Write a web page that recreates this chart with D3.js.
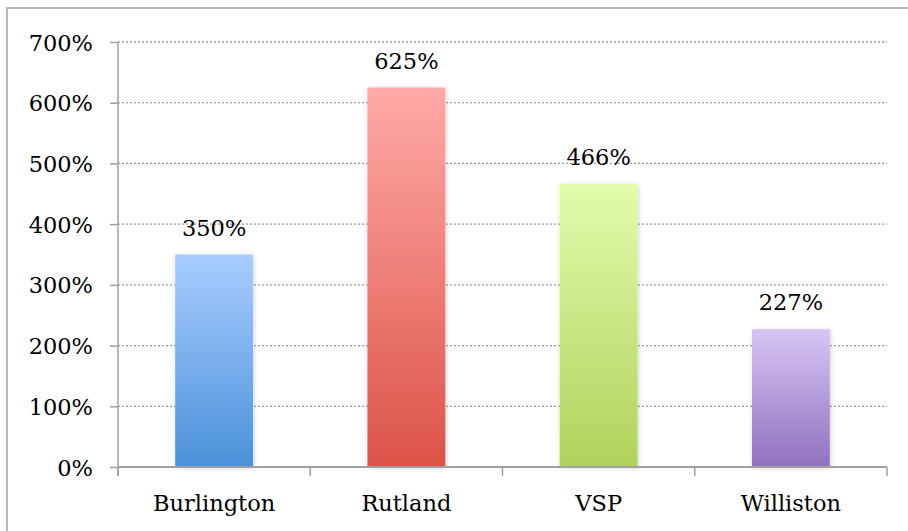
<!DOCTYPE html>
<html>
<head>
<meta charset="utf-8">
<script src="https://cdn.jsdelivr.net/npm/d3@7"></script>
<style>
  body { margin: 0; background: #fff; }
  svg text { font-family: "DejaVu Serif", serif; fill: #000; }
</style>
</head>
<body>
<div id="chart"></div>
<script>
const agencies = ["Burlington", "Rutland", "VSP", "Williston"];
const increase = [350, 625, 466, 227];
const yTicks = [0, 100, 200, 300, 400, 500, 600, 700];
const topColors = ["#a9cdff", "#ffaaa7", "#e1fcab", "#d8c5f4"];
const bottomColors = ["#4a91d9", "#dc5347", "#b0d25c", "#9071bf"];

function drawChart() {
  const W = 908, H = 531;
  const margin = { top: 42, right: 21, bottom: 64, left: 118 };
  const width = W - margin.left - margin.right;
  const height = H - margin.top - margin.bottom;

  const root = d3.select("#chart").append("svg")
    .attr("width", W)
    .attr("height", H);

  // outer frame, runs off the right and bottom edges
  root.append("rect")
    .attr("x", 7).attr("y", 8)
    .attr("width", 1000).attr("height", 600)
    .attr("fill", "none")
    .attr("stroke", "#a3a3a3")
    .attr("stroke-width", 1.5);

  const defs = root.append("defs");
  agencies.forEach((a, i) => {
    const g = defs.append("linearGradient")
      .attr("id", "grad" + i)
      .attr("x1", 0).attr("y1", 0).attr("x2", 0).attr("y2", 1);
    g.append("stop").attr("offset", "0%").attr("stop-color", topColors[i]);
    g.append("stop").attr("offset", "100%").attr("stop-color", bottomColors[i]);
  });
  const shadow = defs.append("filter").attr("id", "shadow")
    .attr("x", "-20%").attr("y", "-5%").attr("width", "140%").attr("height", "110%");
  shadow.append("feDropShadow")
    .attr("dx", 1).attr("dy", 1).attr("stdDeviation", 2.5)
    .attr("flood-color", "#000").attr("flood-opacity", 0.18);

  const svg = root.append("g")
    .attr("transform", `translate(${margin.left},${margin.top})`);

  const x = d3.scaleBand(agencies, [0, width]).padding(0);
  const y = d3.scaleLinear([0, 700], [height, 0]);

  // dotted gridlines
  svg.append("g")
    .selectAll("line")
    .data(yTicks.filter((d) => d > 0))
    .join("line")
    .attr("x1", 0).attr("x2", width)
    .attr("y1", (d) => y(d)).attr("y2", (d) => y(d))
    .attr("stroke", "#9a9a9a")
    .attr("stroke-width", 1.3)
    .attr("stroke-dasharray", "2,2");

  // y axis
  const yAxis = svg.append("g")
    .call(d3.axisLeft(y).tickValues(yTicks).tickFormat((d) => d + "%")
      .tickSizeInner(8).tickSizeOuter(0).tickPadding(17));
  yAxis.select(".domain").remove();
  yAxis.selectAll(".tick line").attr("stroke", "#a0a0a0").attr("stroke-width", 1.5);
  yAxis.selectAll(".tick text")
    .attr("font-size", 22.5)
    .style("font-family", "DejaVu Serif, serif")
    .attr("dy", "0.36em");
  yAxis.append("line")
    .attr("x1", 0).attr("x2", 0)
    .attr("y1", 0).attr("y2", height + 9)
    .attr("stroke", "#a0a0a0").attr("stroke-width", 1.5);

  // bars
  const barW = x.bandwidth() * 0.405;
  svg.append("g")
    .selectAll("rect")
    .data(agencies)
    .join("rect")
    .attr("x", (d) => x(d) + (x.bandwidth() - barW) / 2)
    .attr("y", (d, i) => y(increase[i]))
    .attr("width", barW)
    .attr("height", (d, i) => height - y(increase[i]))
    .attr("fill", (d, i) => `url(#grad${i})`)
    .attr("filter", "url(#shadow)");

  // value labels
  svg.append("g")
    .selectAll("text")
    .data(agencies)
    .join("text")
    .attr("x", (d) => x(d) + x.bandwidth() / 2)
    .attr("y", (d, i) => y(increase[i]) - 19)
    .attr("text-anchor", "middle")
    .attr("font-size", 22.5)
    .text((d, i) => increase[i] + "%");

  // x axis
  const boundaries = agencies.map((d) => x(d)).concat([width]);
  const xAxis = svg.append("g").attr("transform", `translate(0,${height})`);
  xAxis.append("line")
    .attr("x1", 0).attr("x2", width)
    .attr("stroke", "#a0a0a0").attr("stroke-width", 2);
  xAxis.selectAll(".bound")
    .data(boundaries)
    .join("line")
    .attr("class", "bound")
    .attr("x1", (d) => d).attr("x2", (d) => d)
    .attr("y1", 0).attr("y2", 9)
    .attr("stroke", "#a0a0a0").attr("stroke-width", 1.5);
  xAxis.selectAll(".cat")
    .data(agencies)
    .join("text")
    .attr("class", "cat")
    .attr("x", (d) => x(d) + x.bandwidth() / 2)
    .attr("y", 44)
    .attr("text-anchor", "middle")
    .attr("font-size", 22.5)
    .text((d) => d);
}

window.addEventListener("load", drawChart);
</script>
</body>
</html>
